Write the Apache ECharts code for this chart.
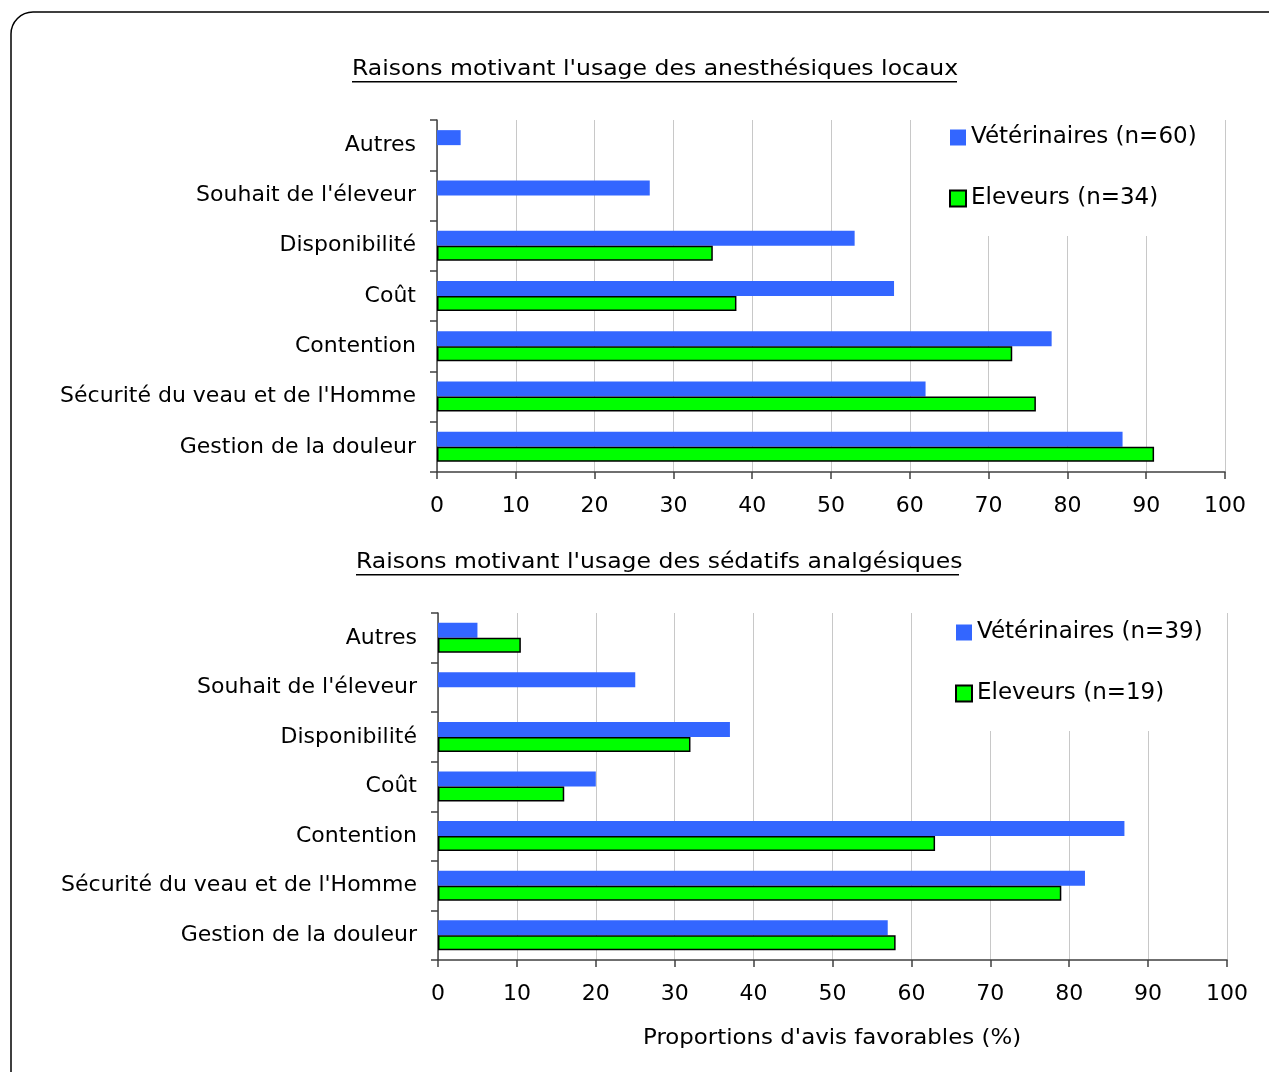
<!DOCTYPE html>
<html>
<head>
<meta charset="utf-8">
<title>Raisons motivant l'usage</title>
<script src="https://cdn.jsdelivr.net/npm/echarts@6/dist/echarts.min.js"></script>
<style>
  html, body { margin: 0; padding: 0; background: #fff; }
  #chart { width: 1269px; height: 1072px; }
</style>
</head>
<body>
<div id="chart"></div>
<script>
// categories, from top to bottom
const categories = [
  'Autres',
  "Souhait de l'éleveur",
  'Disponibilité',
  'Coût',
  'Contention',
  "Sécurité du veau et de l'Homme",
  'Gestion de la douleur'
]
const xTicks = [0, 100, 10] // min, max, interval

// anesthésiques locaux
const localVetName = 'Vétérinaires (n=60)'
const localVet = [3, 27, 53, 58, 78, 62, 87]
const localEleName = 'Eleveurs (n=34)'
const localEle = [null, null, 35, 38, 73, 76, 91]

// sédatifs analgésiques
const sedVetName = 'Vétérinaires (n=39)'
const sedVet = [5, 25, 37, 20, 87, 82, 57]
const sedEleName = 'Eleveurs (n=19)'
const sedEle = [10.5, null, 32, 16, 63, 79, 58]

const FONT = 'DejaVu Sans'
const BLUE = '#3366ff'
const GREEN = '#00ff00'

const chart = echarts.init(document.getElementById('chart'), null, { renderer: 'canvas' })

function makeX (gridIndex) {
  return {
    type: 'value',
    gridIndex: gridIndex,
    min: xTicks[0],
    max: xTicks[1],
    interval: xTicks[2],
    axisLine: { show: true, lineStyle: { color: '#404040', width: 1.5 } },
    axisTick: { show: true, length: 7, lineStyle: { color: '#404040', width: 1.5 } },
    axisLabel: { color: '#000', fontFamily: FONT, fontSize: 22, margin: 23 },
    splitLine: { show: true, lineStyle: { color: '#c8c8c8', width: 1 } }
  }
}

function makeY (gridIndex) {
  return {
    type: 'category',
    gridIndex: gridIndex,
    data: categories,
    inverse: true,
    axisLine: { show: true, lineStyle: { color: '#404040', width: 1.5 } },
    axisTick: { show: true, length: 7, lineStyle: { color: '#404040', width: 1.5 } },
    axisLabel: { color: '#000', fontFamily: FONT, fontSize: 22, margin: 21 }
  }
}

function vetSeries (name, data, idx) {
  return {
    name: name, type: 'bar', xAxisIndex: idx, yAxisIndex: idx,
    data: data, barWidth: 15, barGap: '0%',
    itemStyle: { color: BLUE }
  }
}

function eleSeries (name, data, idx) {
  return {
    name: name, type: 'bar', xAxisIndex: idx, yAxisIndex: idx,
    data: data, barWidth: 15, barGap: '0%',
    itemStyle: { color: GREEN, borderColor: '#000', borderWidth: 1.5 }
  }
}

function makeLegend (names, left, top, padTop) {
  return {
    orient: 'vertical',
    left: left,
    top: top,
    data: names,
    icon: 'rect',
    itemWidth: 16,
    itemHeight: 16,
    itemGap: 38,
    backgroundColor: '#fff',
    padding: [padTop, 18, 26, 9],
    selectedMode: false,
    textStyle: { color: '#000', fontFamily: FONT, fontSize: 23 }
  }
}

// title text stretched a little + underline (echarts text has no underline)
function underlinedTitle (text, x, y, w) {
  return {
    type: 'group',
    x: x,
    y: y,
    children: [
      { type: 'text', x: 0, y: 0, scaleX: 1.12, style: { text: text, fontFamily: FONT, fontSize: 21, fill: '#000' } },
      { type: 'rect', shape: { x: 0, y: 22, width: w, height: 1.5 }, style: { fill: '#000' } }
    ]
  }
}

const option = {
  animation: false,
  backgroundColor: '#fff',
  grid: [
    { left: 437, top: 120, width: 788, height: 352 },
    { left: 438, top: 613, width: 789, height: 347 }
  ],
  xAxis: [makeX(0), makeX(1)],
  yAxis: [makeY(0), makeY(1)],
  legend: [
    makeLegend([localVetName, localEleName], 940, 118, 8),
    makeLegend([sedVetName, sedEleName], 946, 608, 13)
  ],
  series: [
    vetSeries(localVetName, localVet, 0),
    eleSeries(localEleName, localEle, 0),
    vetSeries(sedVetName, sedVet, 1),
    eleSeries(sedEleName, sedEle, 1)
  ],
  graphic: [
    {
      type: 'rect',
      shape: { x: 11, y: 12, width: 1300, height: 1120, r: 22 },
      style: { fill: 'none', stroke: '#000', lineWidth: 1.5 }
    },
    underlinedTitle("Raisons motivant l'usage des anesthésiques locaux", 352, 59, 605),
    underlinedTitle("Raisons motivant l'usage des sédatifs analgésiques", 356, 552, 603),
    {
      type: 'text', x: 643, y: 1028, scaleX: 1.09,
      style: { text: "Proportions d'avis favorables (%)", fontFamily: FONT, fontSize: 21, fill: '#000' }
    }
  ]
}

chart.setOption(option)
</script>
</body>
</html>
